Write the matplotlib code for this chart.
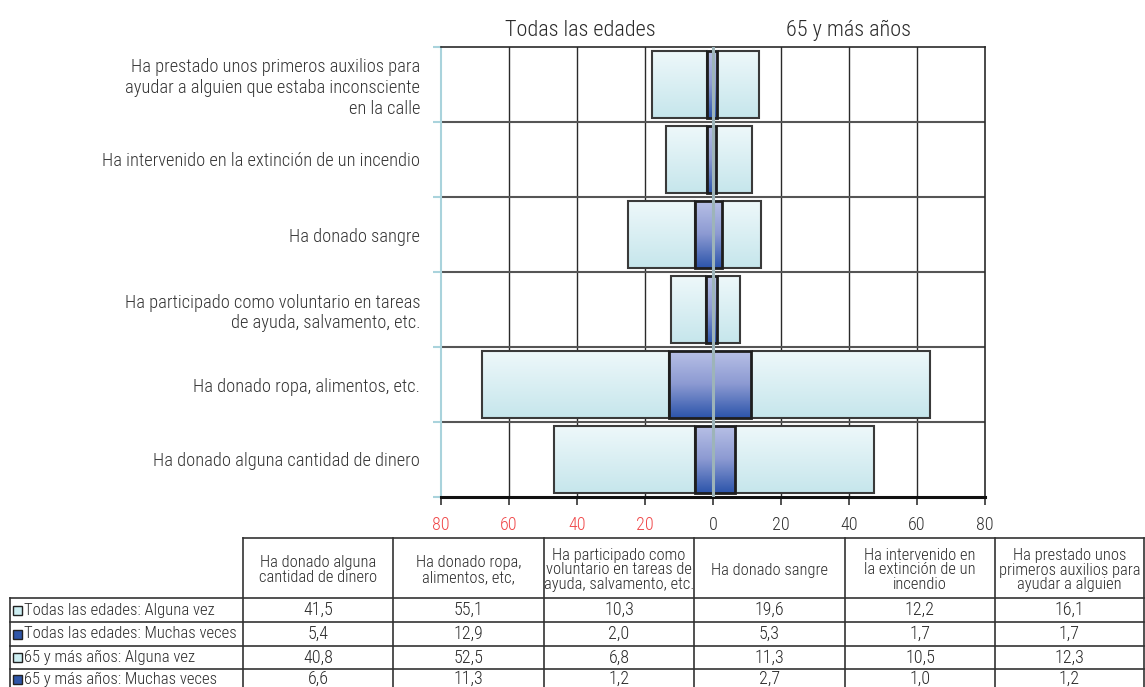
import numpy as np
import matplotlib
matplotlib.use("Agg")
import matplotlib.pyplot as plt
from matplotlib import font_manager as fm
from matplotlib.patches import Rectangle
from matplotlib.colors import LinearSegmentedColormap

# ---------------- data ----------------
categories = [
    "Ha donado alguna cantidad de dinero",
    "Ha donado ropa, alimentos, etc.",
    "Ha participado como voluntario en tareas\nde ayuda, salvamento, etc.",
    "Ha donado sangre",
    "Ha intervenido en la extinción de un incendio",
    "Ha prestado unos primeros auxilios para\nayudar a alguien que estaba inconsciente\nen la calle",
]
table_headers = [
    "Ha donado alguna\ncantidad de dinero",
    "Ha donado ropa,\nalimentos, etc,",
    "Ha participado como\nvoluntario en tareas de\nayuda, salvamento, etc.",
    "Ha donado sangre",
    "Ha intervenido en\nla extinción de un\nincendio",
    "Ha prestado unos\nprimeros auxilios para\nayudar a alguien",
]
series_names = [
    "Todas las edades: Alguna vez",
    "Todas las edades: Muchas veces",
    "65 y más años: Alguna vez",
    "65 y más años: Muchas veces",
]
todas_alguna = [41.5, 55.1, 10.3, 19.6, 12.2, 16.1]
todas_muchas = [5.4, 12.9, 2.0, 5.3, 1.7, 1.7]
mayores_alguna = [40.8, 52.5, 6.8, 11.3, 10.5, 12.3]
mayores_muchas = [6.6, 11.3, 1.2, 2.7, 1.0, 1.2]
x_ticks = [-80, -60, -40, -20, 0, 20, 40, 60, 80]
panel_titles = ["Todas las edades", "65 y más años"]

# ---------------- font ----------------
avail = {f.name for f in fm.fontManager.ttflist}
FONT = "DejaVu Sans"
for cand in ["Roboto Condensed", "Liberation Sans Narrow", "Open Sans Condensed", "Roboto"]:
    if cand in avail:
        FONT = cand
        break
plt.rcParams["font.family"] = [FONT, "DejaVu Sans"]
plt.rcParams["font.weight"] = "light"

W, H = 1145, 687
fig = plt.figure(figsize=(W / 100, H / 100), dpi=100)
TXT = "#2a2a2a"

# main axes in pixel layout
L, R, T, B = 441, 985, 47, 497
ax = fig.add_axes([L / W, 1 - B / H, (R - L) / W, (B - T) / H])
n = len(categories)

light_cmap = LinearSegmentedColormap.from_list("light", ["#c6e6ec", "#eef8fa"])
dark_cmap = LinearSegmentedColormap.from_list("dark", ["#2d55ab", "#8c9ad2", "#b8c0e6"])
grad = np.linspace(0, 1, 64).reshape(-1, 1)

bh = 0.9


def gbar(x0, x1, y, cmap, ec, lw, z):
    lo, hi = min(x0, x1), max(x0, x1)
    ax.imshow(grad, cmap=cmap, origin="lower", aspect="auto",
              extent=(lo, hi, y - bh / 2, y + bh / 2), zorder=z, interpolation="bicubic")
    ax.add_patch(Rectangle((lo, y - bh / 2), hi - lo, bh, fill=False,
                           edgecolor=ec, linewidth=lw, zorder=z + 0.1))


for i in range(n):
    # left: todas las edades
    gbar(-todas_muchas[i], -(todas_muchas[i] + todas_alguna[i]), i, light_cmap, "#3a3a3a", 1.5, 2)
    gbar(0, -todas_muchas[i], i, dark_cmap, "#1e1e1e", 2.0, 3)
    # right: 65 y más
    gbar(mayores_muchas[i], mayores_muchas[i] + mayores_alguna[i], i, light_cmap, "#3a3a3a", 1.5, 2)
    gbar(0, mayores_muchas[i], i, dark_cmap, "#1e1e1e", 2.0, 3)

ax.set_xlim(-80, 80)
ax.set_ylim(-0.5, n - 0.5)

# grid
for xv in x_ticks[1:-1]:
    if xv != 0:
        ax.axvline(xv, color="#2a2a2a", lw=1.0, zorder=0.5)
for k in range(1, n):
    ax.axhline(k - 0.5, color="#555555", lw=1.5, zorder=0.6)
ax.axvline(0, color="#9db4b9", lw=2.2, zorder=5)

for s in ["top", "right"]:
    ax.spines[s].set_color("#2a2a2a")
    ax.spines[s].set_linewidth(1.2)
ax.spines["bottom"].set_color("#111111")
ax.spines["bottom"].set_linewidth(2.2)
ax.spines["left"].set_color("#a9d3dc")
ax.spines["left"].set_linewidth(1.5)

ax.set_xticks(x_ticks)
ax.set_xticklabels([str(abs(v)) for v in x_ticks], fontsize=13)
for lab, v in zip(ax.get_xticklabels(), x_ticks):
    lab.set_color("#f0484a" if v < 0 else "#333333")
ax.tick_params(axis="x", direction="out", length=6, width=1.2, color="#333333", pad=8)

ax.set_yticks(range(n))
ax.set_yticklabels(categories, fontsize=13.2, color="#333333")
ax.tick_params(axis="y", length=0, pad=15)
ax.set_yticks([k - 0.5 for k in range(n + 1)], minor=True)
ax.tick_params(axis="y", which="minor", direction="out", length=6, width=1.5, color="#a9d3dc")

ax.text(-39, 1.014, panel_titles[0], transform=ax.get_xaxis_transform(), ha="center",
        va="bottom", fontsize=16, color=TXT)
ax.text(40, 1.014, panel_titles[1], transform=ax.get_xaxis_transform(), ha="center",
        va="bottom", fontsize=16, color=TXT)

# ---------------- table ----------------
tx = fig.add_axes([0, 0, 1, 1])
tx.set_xlim(0, W)
tx.set_ylim(H, 0)
tx.axis("off")

col_x = [243, 393, 544, 694, 845, 995, 1144]
row_y = [538, 598, 622, 646, 669, 689]
lab_left = 10
lc = "#333333"
tx.plot([col_x[0], col_x[-1]], [row_y[0], row_y[0]], color=lc, lw=1.2)
for yv in row_y[1:-1]:
    tx.plot([lab_left, col_x[-1]], [yv, yv], color=lc, lw=1.2)
for xv in col_x:
    tx.plot([xv, xv], [row_y[0], H + 5], color=lc, lw=1.2)
tx.plot([lab_left, lab_left], [row_y[1], H + 5], color=lc, lw=1.2)

for j, hdr in enumerate(table_headers):
    tx.text((col_x[j] + col_x[j + 1]) / 2, (row_y[0] + row_y[1]) / 2 + 2, hdr, ha="center",
            va="center", fontsize=11.9, color=TXT, linespacing=0.98)

rows = [todas_alguna, todas_muchas, mayores_alguna, mayores_muchas]
sq_colors = ["#cdeef2", "#2f56a8", "#cdeef2", "#2f56a8"]
for r, (name, vals) in enumerate(zip(series_names, rows)):
    yc = (row_y[r + 1] + row_y[r + 2]) / 2
    tx.add_patch(Rectangle((13, yc - 4.5), 9, 9, facecolor=sq_colors[r], edgecolor="#222222", lw=1.0))
    tx.text(24, yc, name, ha="left", va="center", fontsize=12.0, color=TXT)
    for j, v in enumerate(vals):
        tx.text((col_x[j] + col_x[j + 1]) / 2, yc, f"{v:.1f}".replace(".", ","),
                ha="center", va="center", fontsize=13.0, color=TXT)

fig.savefig("out.png", dpi=100)
